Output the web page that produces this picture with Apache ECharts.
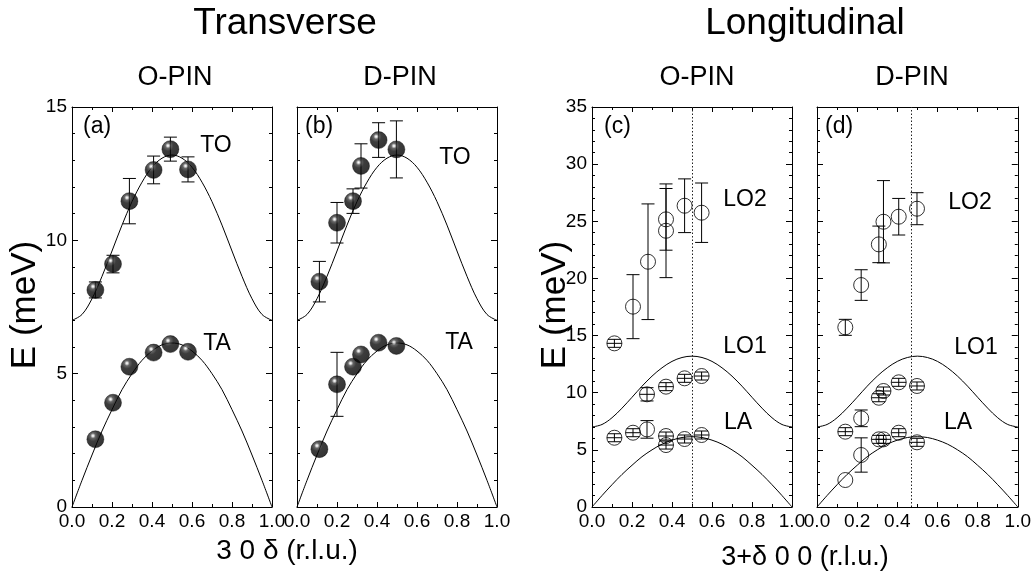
<!DOCTYPE html>
<html><head><meta charset="utf-8">
<script src="https://cdn.jsdelivr.net/npm/echarts@6/dist/echarts.min.js"></script>
<style>html,body{margin:0;padding:0;background:#fff}#c{width:1034px;height:578px}</style>
</head><body><div id="c"></div><script>
// ---------- data ----------
const xTickLabels = ['0.0','0.2','0.4','0.6','0.8','1.0'];
const curveX = [0,0.05,0.1,0.15,0.2,0.25,0.3,0.35,0.4,0.45,0.5,0.55,0.6,0.65,0.7,0.75,0.8,0.85,0.9,0.95,1.0];
const opticCurve = [7.00,7.22,7.81,8.65,9.60,10.57,11.45,12.18,12.74,13.08,13.20,13.08,12.74,12.18,11.45,10.57,9.60,8.65,7.81,7.22,7.00];
const acousticCurve = [0,1.00,1.95,2.85,3.65,4.40,5.00,5.50,5.85,6.08,6.15,6.08,5.85,5.50,5.00,4.40,3.65,2.85,1.95,1.00,0];

// (a) transverse O-PIN
const aX = [0.117,0.205,0.287,0.408,0.492,0.580];
const aTO = [8.14,9.11,11.47,12.64,13.42,12.66];
const aTOerr = [0.30,0.33,0.85,0.52,0.45,0.47];
const aTA = [2.54,3.91,5.26,5.79,6.11,5.82];
const aTAerr = [0,0,0,0,0,0];
// (b) transverse D-PIN
const bX = [0.112,0.200,0.280,0.320,0.408,0.497];
const bTO = [8.45,10.66,11.47,12.79,13.76,13.41];
const bTOerr = [0.76,0.76,0.46,0.83,0.65,1.07];
const bTA = [2.17,4.60,5.26,5.72,6.16,6.04];
const bTAerr = [0,1.20,0,0,0,0];
// (c) longitudinal O-PIN
const cLO2x = [0.112,0.205,0.280,0.370,0.370,0.463,0.548];
const cLO2 = [14.32,17.53,21.46,25.17,24.17,26.36,25.75];
const cLO2err = [0.35,2.80,5.06,2.70,4.10,2.35,2.60];
const cLO1x = [0.275,0.370,0.463,0.548];
const cLO1 = [9.86,10.53,11.26,11.46];
const cLO1err = [0.58,0.35,0.35,0.35];
const cLAx = [0.112,0.205,0.275,0.370,0.370,0.463,0.548];
const cLA = [6.06,6.50,6.79,6.21,5.42,5.95,6.30];
const cLAerr = [0.35,0.35,0.77,0.35,0.35,0.35,0.35];
const cZoneEdge = 0.503;
// (d) longitudinal D-PIN
const dX = [0.141,0.220,0.308,0.331,0.407,0.498];
const dLO2 = [15.72,19.42,22.98,24.96,25.40,26.10];
const dLO2err = [0.70,1.34,1.60,3.60,1.60,1.40];
const dLO1 = [6.59,7.76,9.56,10.15,10.91,10.59];
const dLO1err = [0.35,0.73,0.35,0.35,0.35,0.35];
const dLA = [2.36,4.55,5.92,5.92,6.50,5.66];
const dLAerr = [0,1.50,0.35,0.35,0.35,0.35];
const dZoneEdge = 0.475;

// ---------- layout ----------
const FONT = 'Liberation Sans, Arial, sans-serif';
const panels = [
  {left:72, width:200, ymax:15, labels:true},
  {left:297, width:200, ymax:15, labels:false},
  {left:592, width:200, ymax:35, labels:true},
  {left:817, width:202, ymax:35, labels:false}
];
const grids = panels.map(p => ({left:p.left, width:p.width, top:107, height:400}));
const xAxes = [], yAxes = [];
panels.forEach((p, i) => {
  ['bottom','top'].forEach(pos => xAxes.push({
    type:'value', gridIndex:i, position:pos, min:0, max:1, interval:0.2,
    axisLine:{show:true, onZero:false, lineStyle:{color:'#000', width:1}},
    axisTick:{show:true, inside:true, length:5, lineStyle:{color:'#000'}},
    minorTick:{show:true, splitNumber:2, length:3, lineStyle:{color:'#000'}},
    splitLine:{show:false},
    axisLabel:{show:pos==='bottom', color:'#000', fontSize:19, fontFamily:FONT, margin:5,
      formatter: v => xTickLabels[Math.round(v/0.2)]}
  }));
  ['left','right'].forEach(pos => yAxes.push({
    type:'value', gridIndex:i, position:pos, min:0, max:p.ymax, interval:5,
    axisLine:{show:true, onZero:false, lineStyle:{color:'#000', width:1}},
    axisTick:{show:true, inside:true, length:6, lineStyle:{color:'#000'}},
    minorTick:{show:true, splitNumber:5, length:3, lineStyle:{color:'#000'}},
    splitLine:{show:false},
    axisLabel:{show:pos==='left' && p.labels, color:'#000', fontSize:19, fontFamily:FONT, margin:5}
  }));
});

const ball = {type:'radial', x:0.36, y:0.3, r:0.75,
  colorStops:[{offset:0,color:'#ffffff'},{offset:0.07,color:'#d8d8d8'},{offset:0.2,color:'#404040'},{offset:0.42,color:'#0c0c0c'},{offset:1,color:'#000'}]};

function curve(gi, ys) {
  return {type:'line', xAxisIndex:2*gi, yAxisIndex:2*gi, data: curveX.map((x,i)=>[x, ys[i]]),
    smooth:0.35, showSymbol:false, symbol:'none', silent:true, z:1,
    lineStyle:{color:'#000', width:1}};
}
function errBars(gi, xs, ys, es, z, ringSize) {
  const data = [];
  xs.forEach((x,i)=>{ if (es[i] > 0) data.push([x, ys[i]-es[i], ys[i]+es[i], ys[i]]); });
  return {type:'custom', xAxisIndex:2*gi, yAxisIndex:2*gi, z:z, silent:true, data,
    encode:{x:0, y:[1,2]},
    renderItem(params, api) {
      const lo = api.coord([api.value(0), api.value(1)]);
      const hi = api.coord([api.value(0), api.value(2)]);
      const mid = api.coord([api.value(0), api.value(3)]);
      const w = 6.5, st = {stroke:'#000', lineWidth:1};
      const ch = [
        {type:'line', shape:{x1:lo[0], y1:lo[1], x2:hi[0], y2:hi[1]}, style:st},
        {type:'line', shape:{x1:lo[0]-w, y1:lo[1], x2:lo[0]+w, y2:lo[1]}, style:st},
        {type:'line', shape:{x1:hi[0]-w, y1:hi[1], x2:hi[0]+w, y2:hi[1]}, style:st}
      ];
      if (ringSize && Math.abs(lo[1]-hi[1]) < ringSize) {
        const r = ringSize/2;
        ch.push({type:'line', shape:{x1:mid[0]-r, y1:mid[1], x2:mid[0]+r, y2:mid[1]}, style:st});
      }
      return {type:'group', children:ch};
    }};
}
function balls(gi, xs, ys) {
  return {type:'scatter', xAxisIndex:2*gi, yAxisIndex:2*gi, z:4, symbol:'circle', symbolSize:17,
    data: xs.map((x,i)=>[x, ys[i]]), itemStyle:{color:ball, borderColor:'#000', borderWidth:0.5}};
}
function rings(gi, xs, ys) {
  return {type:'scatter', xAxisIndex:2*gi, yAxisIndex:2*gi, z:4, symbol:'circle', symbolSize:15,
    data: xs.map((x,i)=>[x, ys[i]]), itemStyle:{color:'rgba(255,255,255,0)', borderColor:'#000', borderWidth:1}};
}
function zoneLine(gi, xv) {
  return {type:'line', xAxisIndex:2*gi, yAxisIndex:2*gi, data:[], silent:true,
    markLine:{symbol:'none', silent:true, label:{show:false},
      lineStyle:{color:'#222', width:1, type:[1.5,2]}, data:[{xAxis:xv}]}};
}

const series = [
  curve(0, opticCurve), curve(0, acousticCurve),
  errBars(0, aX, aTO, aTOerr, 3), errBars(0, aX, aTA, aTAerr, 3),
  balls(0, aX, aTO), balls(0, aX, aTA),
  curve(1, opticCurve), curve(1, acousticCurve),
  errBars(1, bX, bTO, bTOerr, 3), errBars(1, bX, bTA, bTAerr, 3),
  balls(1, bX, bTO), balls(1, bX, bTA),
  curve(2, opticCurve), curve(2, acousticCurve), zoneLine(2, cZoneEdge),
  rings(2, cLO2x, cLO2), rings(2, cLO1x, cLO1), rings(2, cLAx, cLA),
  errBars(2, cLO2x, cLO2, cLO2err, 5, 15), errBars(2, cLO1x, cLO1, cLO1err, 5, 15), errBars(2, cLAx, cLA, cLAerr, 5, 15),
  curve(3, opticCurve), curve(3, acousticCurve), zoneLine(3, dZoneEdge),
  rings(3, dX, dLO2), rings(3, dX, dLO1), rings(3, dX, dLA),
  errBars(3, dX, dLO2, dLO2err, 5, 15), errBars(3, dX, dLO1, dLO1err, 5, 15), errBars(3, dX, dLA, dLAerr, 5, 15)
];

function txt(x, y, s, size, align, rot) {
  return {type:'text', x, y, rotation: rot || 0, z:10, silent:true,
    style:{text:s, fill:'#000', font: size + 'px ' + FONT, textAlign: align || 'center', textVerticalAlign:'middle'}};
}
const graphic = [
  txt(285, 24, 'Transverse', 37), txt(805, 24, 'Longitudinal', 37),
  txt(175, 78, 'O-PIN', 27), txt(400, 78, 'D-PIN', 27),
  txt(697, 78, 'O-PIN', 27), txt(912, 78, 'D-PIN', 27),
  txt(83, 127, '(a)', 23, 'left'), txt(305, 127, '(b)', 23, 'left'),
  txt(604, 127, '(c)', 23, 'left'), txt(825, 127, '(d)', 23, 'left'),
  txt(216, 146, 'TO', 23), txt(217, 344, 'TA', 23),
  txt(455, 158, 'TO', 23), txt(459, 343, 'TA', 23),
  txt(745, 200, 'LO2', 23), txt(745, 347, 'LO1', 23), txt(738, 423, 'LA', 23),
  txt(970, 203, 'LO2', 23), txt(976, 348, 'LO1', 23), txt(958, 423, 'LA', 23),
  txt(25, 305, 'E (meV)', 35, 'center', Math.PI/2),
  txt(555, 305, 'E (meV)', 35, 'center', Math.PI/2),
  txt(287, 551, '3 0 \u03b4 (r.l.u.)', 28), txt(805, 558, '3+\u03b4 0 0 (r.l.u.)', 27)
];

const chart = echarts.init(document.getElementById('c'), null, {renderer:'canvas'});
chart.setOption({animation:false, backgroundColor:'#fff', grid:grids, xAxis:xAxes, yAxis:yAxes, series, graphic});
</script></body></html>
